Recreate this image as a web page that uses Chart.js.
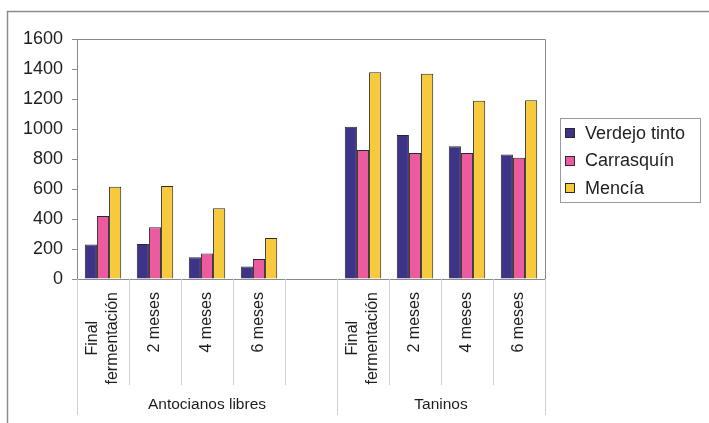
<!DOCTYPE html>
<html>
<head>
<meta charset="utf-8">
<script src="https://cdn.jsdelivr.net/npm/chart.js@4/dist/chart.umd.min.js"></script>
<style>
  html, body { margin: 0; padding: 0; background: #ffffff; }
  #wrap { width: 709px; height: 423px; }
</style>
</head>
<body>
<div id="wrap"><canvas id="c" width="709" height="423"></canvas></div>
<script>
// Sampling points for each wine; the blank slot separates the two measures
const categories = [
  ["Final", "fermentación"], ["2 meses"], ["4 meses"], ["6 meses"], [""],
  ["Final", "fermentación"], ["2 meses"], ["4 meses"], ["6 meses"]
];
// Measure groups and how many categories each spans
const groupLabels = ["Antocianos libres", "Taninos"];
const groupSizes = [5, 4];

const seriesNames = ["Verdejo tinto", "Carrasquín", "Mencía"];
const verdejoTinto = [230, 233, 145, 83, null, 1015, 960, 885, 830];
const carrasquin   = [420, 345, 170, 133, null, 860, 840, 840, 808];
const mencia       = [615, 620, 472, 273, null, 1378, 1368, 1188, 1192];

const yTicks = [0, 200, 400, 600, 800, 1000, 1200, 1400, 1600];

const seriesColors = ["#3d3487", "#ec5b9f", "#f7c93c"];
const FONT = "'Liberation Sans', Arial, sans-serif";
const TEXT = "#1e1e1e";
const AXIS = "#8a8a8a";

// Frame, plot border, two-level category axis and the boxed legend
const decorations = {
  id: "decorations",
  beforeDraw(chart) {
    const ctx = chart.ctx;
    ctx.save();
    ctx.fillStyle = "#ffffff";
    ctx.fillRect(0, 0, chart.width, chart.height);
    ctx.strokeStyle = "#8c8c8c";
    ctx.lineWidth = 1.5;
    ctx.beginPath();
    ctx.moveTo(7.5, chart.height);
    ctx.lineTo(7.5, 11.5);
    ctx.lineTo(chart.width, 11.5);
    ctx.stroke();
    ctx.restore();
  },
  afterDraw(chart) {
    const ctx = chart.ctx;
    const area = chart.chartArea;
    const xs = chart.scales.x;
    ctx.save();

    // plot area top and right edges
    ctx.strokeStyle = AXIS;
    ctx.lineWidth = 1;
    ctx.beginPath();
    ctx.moveTo(area.left, Math.round(area.top) + 0.5);
    ctx.lineTo(Math.round(area.right) + 0.5, Math.round(area.top) + 0.5);
    ctx.lineTo(Math.round(area.right) + 0.5, area.bottom);
    ctx.stroke();

    // category boundaries
    const n = categories.length;
    const edges = [];
    for (let i = 0; i <= n; i++) {
      if (i === 0) edges.push(xs.left);
      else if (i === n) edges.push(xs.right);
      else edges.push((xs.getPixelForValue(i - 1) + xs.getPixelForValue(i)) / 2);
    }
    const groupEdges = new Set([0]);
    let acc = 0;
    groupSizes.forEach(s => { acc += s; groupEdges.add(acc); });

    ctx.strokeStyle = "#cfcfcf";
    ctx.lineWidth = 1;
    edges.forEach((px, i) => {
      const long = groupEdges.has(i);
      ctx.beginPath();
      ctx.moveTo(Math.round(px) + 0.5, area.bottom);
      ctx.lineTo(Math.round(px) + 0.5, area.bottom + (long ? 136 : 106));
      ctx.stroke();
    });

    // rotated category labels, block top-aligned under the axis
    ctx.fillStyle = TEXT;
    ctx.font = "16px " + FONT;
    ctx.textAlign = "center";
    ctx.textBaseline = "middle";
    const lineGap = 20;
    categories.forEach((lines, i) => {
      const cx = xs.getPixelForValue(i);
      const maxW = Math.max(...lines.map(l => ctx.measureText(l).width));
      const cy = area.bottom + 13 + maxW / 2;
      lines.forEach((line, j) => {
        const off = (j - (lines.length - 1) / 2) * lineGap;
        ctx.save();
        ctx.translate(cx + off, cy);
        ctx.rotate(-Math.PI / 2);
        ctx.fillText(line, 0, 0);
        ctx.restore();
      });
    });

    // group labels
    ctx.font = "15.5px " + FONT;
    let start = 0;
    groupSizes.forEach((s, g) => {
      const mid = (edges[start] + edges[start + s]) / 2;
      ctx.fillText(groupLabels[g], mid, area.bottom + 126);
      start += s;
    });

    // legend
    const lgLeft = area.right + 15;
    const lgRight = chart.width - 9;
    const rowGap = 27.5;
    const cy = (area.top + area.bottom) / 2 + 1.5;
    const rows = chart.data.datasets.length;
    const top = cy - (rows / 2) * rowGap - 1;
    const bottom = cy + (rows / 2) * rowGap;
    ctx.strokeStyle = "#9a9a9a";
    ctx.lineWidth = 1;
    ctx.strokeRect(Math.round(lgLeft) + 0.5, Math.round(top) + 0.5, Math.round(lgRight - lgLeft), Math.round(bottom - top));
    ctx.font = "18px " + FONT;
    ctx.textAlign = "left";
    chart.data.datasets.forEach((ds, i) => {
      const y = cy + (i - (rows - 1) / 2) * rowGap;
      ctx.fillStyle = ds.backgroundColor;
      ctx.fillRect(lgLeft + 5, Math.round(y - 5), 10, 10);
      ctx.strokeStyle = "#2a2a2a";
      ctx.strokeRect(lgLeft + 5.5, Math.round(y - 5) + 0.5, 9, 9);
      ctx.fillStyle = TEXT;
      ctx.fillText(ds.label, lgLeft + 25, y + 1);
    });

    ctx.restore();
  }
};

const seriesData = [verdejoTinto, carrasquin, mencia];

new Chart(document.getElementById("c"), {
  type: "bar",
  data: {
    labels: categories,
    datasets: seriesNames.map((name, i) => ({
      label: name,
      data: seriesData[i],
      backgroundColor: seriesColors[i],
      borderColor: "#2b2b2b",
      borderWidth: 1,
      categoryPercentage: 0.7,
      barPercentage: 1.0
    }))
  },
  options: {
    responsive: false,
    animation: false,
    layout: { padding: { top: 39, right: 164, left: 0, bottom: 0 } },
    plugins: {
      legend: { display: false },
      tooltip: { enabled: false }
    },
    scales: {
      x: {
        grid: { display: false },
        border: { display: true, color: AXIS, width: 1 },
        ticks: { display: false },
        afterFit(scale) { scale.height = 144; }
      },
      y: {
        min: 0,
        max: 1600,
        afterBuildTicks(scale) { scale.ticks = yTicks.map(v => ({ value: v })); },
        grid: { drawOnChartArea: false, drawTicks: true, tickLength: 5, color: AXIS },
        border: { display: true, color: AXIS, width: 1 },
        ticks: {
          padding: 9,
          color: TEXT,
          font: { family: FONT, size: 18 },
          callback: v => String(v)
        },
        afterFit(scale) { scale.width = 77; }
      }
    }
  },
  plugins: [decorations]
});
</script>
</body>
</html>
